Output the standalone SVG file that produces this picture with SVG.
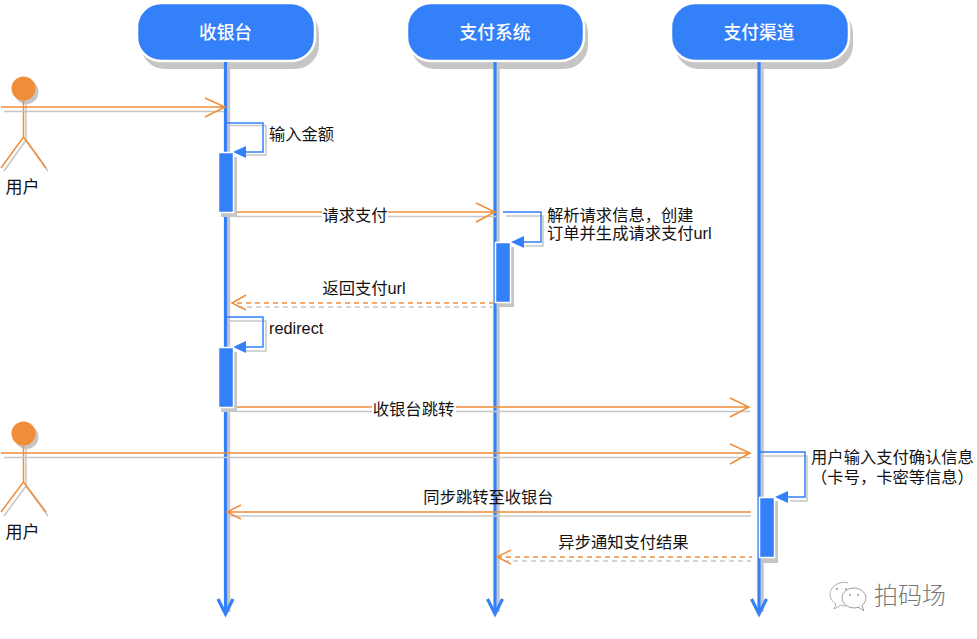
<svg xmlns="http://www.w3.org/2000/svg" width="977" height="639" viewBox="0 0 977 639">
<style>
text{font-family:"Liberation Sans","Noto Sans CJK SC",sans-serif;font-size:16.300px;fill:#111}
.t{text-anchor:middle}
.a{font-size:17px}
.h{font-size:17.700px;font-weight:500;fill:#fff;text-anchor:middle;font-family:"Noto Sans CJK SC",sans-serif}
.sh{fill:#c6c6c6}
.ss{fill:none;stroke:#c6c6c6;stroke-width:1.500}
.o{fill:none;stroke:#f08d38;stroke-width:1.500}
.od{fill:none;stroke:#f08d38;stroke-width:1.500;stroke-dasharray:5 4}
.sd{fill:none;stroke:#c6c6c6;stroke-width:1.500;stroke-dasharray:5 4}
.b{fill:none;stroke:#3380f8;stroke-width:1.500}
.bar{fill:#3380f8;stroke:#fff;stroke-width:1.500}
.bg{fill:#fff}
</style>
<rect width="977" height="639" fill="#fff"/>
<g id="node-cashier">
<rect x="141" y="9" width="178" height="60" rx="24" class="sh"/>
<rect x="137" y="3" width="178" height="58" rx="24" fill="#3380f8" stroke="#fff" stroke-width="2.500"/>
<text x="225.500" y="38.500" class="h">收银台</text>
</g>
<g id="node-pay">
<rect x="411" y="9" width="177" height="60" rx="24" class="sh"/>
<rect x="407" y="3" width="177" height="58" rx="24" fill="#3380f8" stroke="#fff" stroke-width="2.500"/>
<text x="495" y="38.500" class="h">支付系统</text>
</g>
<g id="node-channel">
<rect x="675" y="9" width="178" height="60" rx="24" class="sh"/>
<rect x="671" y="3" width="178" height="58" rx="24" fill="#3380f8" stroke="#fff" stroke-width="2.500"/>
<text x="759" y="38.500" class="h">支付渠道</text>
</g>
<g id="actor1">
<circle cx="26.500" cy="92" r="12" class="sh"/>
<circle cx="23.500" cy="88.500" r="12" fill="#f08d38"/>
<path class="ss" d="M26 101V140M26 140L4 171M26 140L48 171"/>
<path class="o" d="M23.500 100V137M23.500 137L1 168M23.500 137L46 168"/>
<text x="22.500" y="193" class="t a">用户</text>
</g>
<g id="actor2">
<circle cx="26.500" cy="437" r="12" class="sh"/>
<circle cx="23.500" cy="433.500" r="12" fill="#f08d38"/>
<path class="ss" d="M26 446V486M26 486L4 516M26 486L48 516"/>
<path class="o" d="M23.500 445V482M23.500 482L1 512M23.500 482L46 512"/>
<text x="22.500" y="538" class="t a">用户</text>
</g>
<g id="connectors">
<g id="lifelines">
<path d="M228.500 62V612M498 62V612M762 62V612" fill="none" stroke="#c6c6c6" stroke-width="3.500"/>
<path d="M225.500 62V612M495 62V612M759 62V612" fill="none" stroke="#3380f8" stroke-width="3.200"/>
<path d="M218 599L225.500 614L233 599M487.500 599L495 614L502.500 599M751.500 599L759 614L766.500 599" fill="none" stroke="#3380f8" stroke-width="3.200"/>
</g>
<g id="messages">
<path class="ss" d="M4 111.500H224M4 457.500H750M228 125.500H266V155H243M236 216.500H496M506 216H543V246H525M236 411.500H750M762 456H807V501H790M228 321H266V351H243M230 516H751"/>
<path class="o" d="M1 107H225M205 98L225 107L205 117M1 453H750M730 444L750 453L730 464M236 212H495M476 203L495 212L476 222M236 407H749M730 398L749 407L730 417M751 512H227M241 505L227 512L241 519"/>
<path class="sd" d="M238 307H494M504 561H751"/>
<path class="od" d="M494 303H233M497 557H752"/>
<path class="o" d="M246 295L232 303L246 310M511 550L497 557L511 564"/>
<path class="b" d="M226 123H263V152H243M503 212H541V242H524M760 452H805V497H787M226 317H263V347H243"/>
<path fill="#3380f8" d="M233 152L246 146V158ZM511 242L524 236V248ZM775 497L788 491V503ZM233 347L246 341V353Z"/>
</g>
</g>
<g id="activations">
<rect x="221" y="157" width="16" height="60" class="sh"/><rect x="218.500" y="152.500" width="15" height="60" class="bar"/>
<rect x="498" y="247" width="16" height="60" class="sh"/><rect x="495.500" y="242.500" width="15" height="60" class="bar"/>
<rect x="221" y="352" width="16" height="60" class="sh"/><rect x="218.500" y="347.500" width="15" height="60" class="bar"/>
<rect x="762" y="501" width="16" height="62" class="sh"/><rect x="759.500" y="497.500" width="15" height="60" class="bar"/>
</g>
<g id="labels">
<rect class="bg" x="322" y="206" width="66" height="18"/><text x="355" y="220.500" class="t">请求支付</text>
<text x="269" y="140">输入金额</text>
<text x="547" y="221">解析请求信息，创建</text>
<text x="547" y="238.500">订单并生成请求支付url</text>
<text x="364" y="293.500" class="t">返回支付url</text>
<text x="269" y="334">redirect</text>
<rect class="bg" x="372" y="400" width="84" height="18"/><text x="413.500" y="415" class="t">收银台跳转</text>
<text x="892.500" y="463" class="t">用户输入支付确认信息</text>
<text x="892.500" y="483" class="t">（卡号，卡密等信息）</text>
<text x="488.500" y="503" class="t">同步跳转至收银台</text>
<text x="623.500" y="548" class="t">异步通知支付结果</text>
</g>
<g id="watermark">
<path d="M848 583C838 580 830 588 830 594C830 599 833 602 836 604L834 609L841 605C843 606 844 606 846 606" fill="#fff" stroke="#999" stroke-width=".8"/>
<ellipse cx="854" cy="598" rx="12" ry="10" fill="#fff" stroke="#888" stroke-width=".8"/>
<path d="M858 607L864 611L862 605" fill="#fff" stroke="#888" stroke-width=".8"/>
<circle cx="837" cy="589" r="1" fill="#999"/><circle cx="846" cy="589" r="1" fill="#999"/><circle cx="850" cy="595" r="1" fill="#999"/><circle cx="858" cy="595" r="1" fill="#999"/>
<text x="874" y="604" style="font-size:24px;fill:#777;font-family:'Noto Sans CJK SC',sans-serif;font-weight:300">拍码场</text>
</g>
</svg>
